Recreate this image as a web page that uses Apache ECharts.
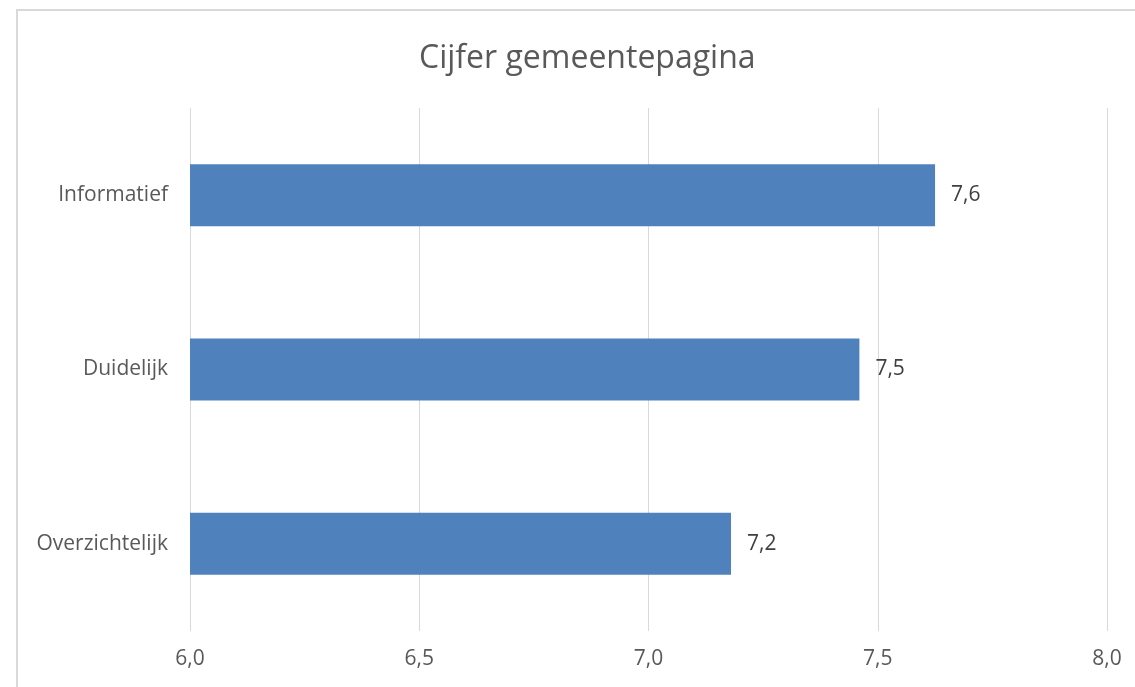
<!DOCTYPE html>
<html>
<head>
<meta charset="utf-8">
<script src="https://cdn.jsdelivr.net/npm/echarts@6/dist/echarts.min.js"></script>
<style>
  html, body { margin: 0; padding: 0; background: #fff; }
  #chart { width: 1135px; height: 687px; }
</style>
</head>
<body>
<div id="chart"></div>
<script>
// data
var categories = ['Overzichtelijk', 'Duidelijk', 'Informatief'];
var scores = [7.18, 7.46, 7.625];
var tickMin = 6.0, tickMax = 8.0, tickStep = 0.5;

var font = '"Open Sans", Lato, sans-serif';

function comma(v) {
  return v.toFixed(1).replace('.', ',');
}

var chart = echarts.init(document.getElementById('chart'));
chart.setOption({
  backgroundColor: '#fff',
  animation: false,
  title: {
    text: 'Cijfer gemeentepagina',
    left: 414,
    top: 38,
    textStyle: { fontFamily: font, fontSize: 32, fontWeight: 'normal', color: '#595959' }
  },
  graphic: [{
    type: 'rect',
    shape: { x: 17, y: 10, width: 1300, height: 900 },
    style: { fill: 'none', stroke: '#d9d9d9', lineWidth: 2 },
    silent: true
  }],
  grid: { left: 190, right: 28, top: 108, bottom: 56 },
  xAxis: {
    type: 'value',
    min: tickMin,
    max: tickMax,
    interval: tickStep,
    axisLine: { show: false },
    axisTick: { show: false },
    splitLine: { lineStyle: { color: '#d9d9d9', width: 1 } },
    axisLabel: {
      margin: 18,
      color: '#595959',
      fontFamily: font,
      fontSize: 21,
      formatter: function (v) { return comma(v); }
    }
  },
  yAxis: {
    type: 'category',
    data: categories,
    axisLine: { show: false },
    axisTick: { show: false },
    axisLabel: { margin: 22, color: '#595959', fontFamily: font, fontSize: 21 }
  },
  series: [{
    type: 'bar',
    data: scores,
    barWidth: 62,
    itemStyle: { color: '#4f81bd' },
    label: {
      show: true,
      position: 'right',
      distance: 16,
      color: '#404040',
      fontFamily: font,
      fontSize: 21,
      formatter: function (p) { return comma(p.value); }
    }
  }]
});
</script>
</body>
</html>
